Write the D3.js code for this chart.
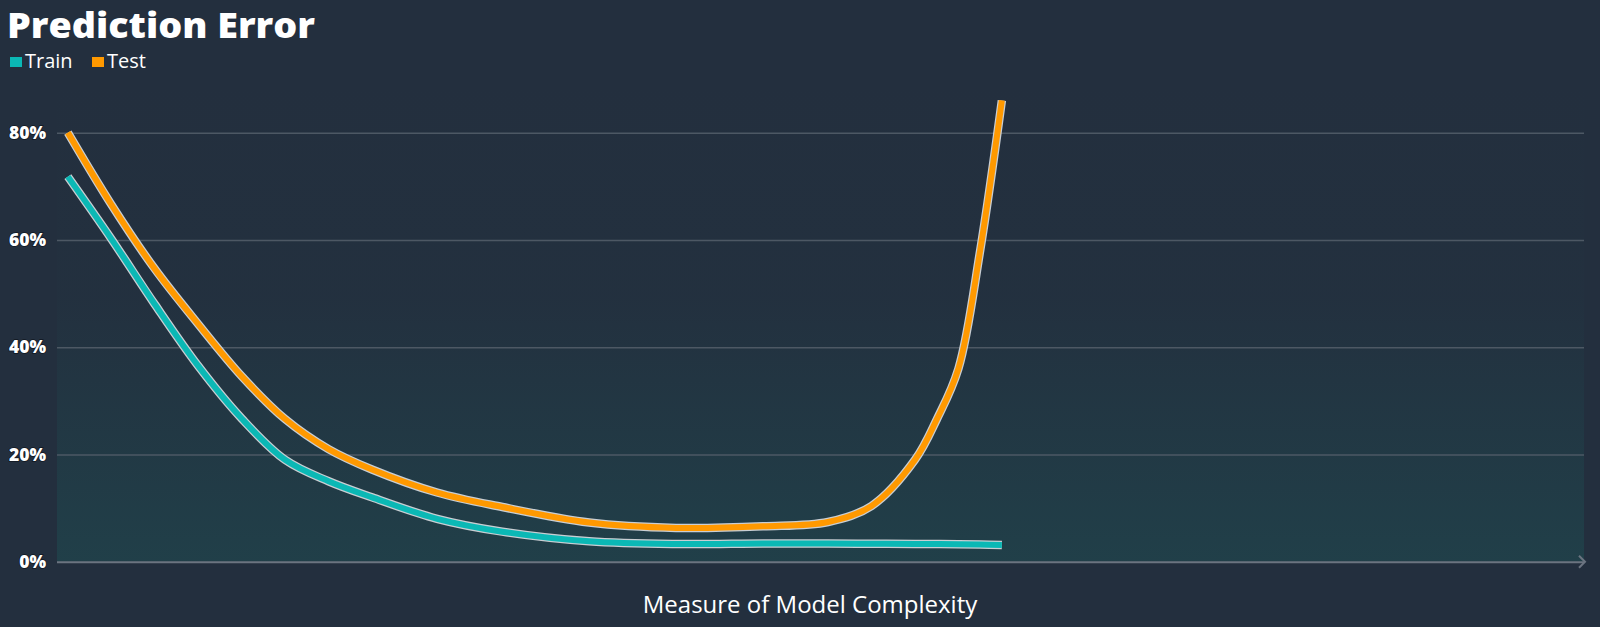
<!DOCTYPE html>
<html>
<head>
<meta charset="utf-8">
<script src="https://cdn.jsdelivr.net/npm/d3@7"></script>
<style>
  html, body { margin: 0; padding: 0; background: #232f3e; }
  svg { display: block; }
</style>
</head>
<body>
<svg id="chart" width="1600" height="627"></svg>
<script>
// ---- data ----
const complexity = [1, 3, 5, 7, 9, 11, 13, 15, 18, 21, 25, 29, 33, 36, 38, 40, 41, 42, 43, 44];
const trainError = [71.8, 60.2, 48.0, 36.5, 26.7, 19.0, 15.0, 12.0, 8.0, 5.6, 3.8, 3.3, 3.4, 3.4, 3.35, 3.3, 3.3, 3.25, 3.2, 3.1];
const testError  = [80, 66.6, 54.6, 44.3, 34.6, 26.6, 21.0, 17.2, 12.9, 10.2, 7.3, 6.3, 6.6, 7.4, 10.4, 19.0, 26.5, 36, 58, 86];
const yTicks = [0, 20, 40, 60, 80];
const seriesNames = ["Train", "Test"];
const seriesColors = ["#0bb8b5", "#ff9900"];
const titleText = "Prediction Error";
const xAxisTitle = "Measure of Model Complexity";

// ---- layout ----
const W = 1600, H = 627;
const plot = { left: 57, right: 1584, top: 79, bottom: 561.7 };

const svg = d3.select("#chart");
svg.append("rect").attr("width", W).attr("height", H).attr("fill", "#232f3e");

const x = d3.scaleLinear().domain([0.5, 70.8]).range([plot.left, plot.right]);
const y = d3.scaleLinear().domain([0, 90]).range([plot.bottom, plot.top]);

// gradient background of plot
const defs = svg.append("defs");
const grad = defs.append("linearGradient").attr("id", "bg").attr("x1", 0).attr("y1", 0).attr("x2", 0).attr("y2", 1);
grad.append("stop").attr("offset", "0%").attr("stop-color", "#1f4a50").attr("stop-opacity", 0);
grad.append("stop").attr("offset", "45%").attr("stop-color", "#1f4a50").attr("stop-opacity", 0.05);
grad.append("stop").attr("offset", "100%").attr("stop-color", "#1f4a50").attr("stop-opacity", 0.6);
svg.append("rect")
  .attr("x", plot.left).attr("y", y(90))
  .attr("width", plot.right - plot.left).attr("height", plot.bottom - y(90))
  .attr("fill", "url(#bg)");

// gridlines + y labels
const yAxis = d3.axisLeft(y).tickValues(yTicks).tickSize(-(plot.right - plot.left)).tickFormat(d => d + "%").tickPadding(12);
const gy = svg.append("g").attr("transform", `translate(${plot.left},0)`).call(yAxis);
gy.select(".domain").remove();
gy.selectAll(".tick line").attr("stroke", "#4d5864").attr("stroke-width", 1.5)
  .filter(d => d === 0).attr("stroke", "#6b7480").attr("stroke-width", 2);
gy.selectAll(".tick text")
  .attr("x", -11)
  .attr("fill", "#ffffff")
  .attr("font-family", "'Open Sans', sans-serif")
  .attr("font-weight", 800)
  .attr("font-size", 17.5)
  .style("paint-order", "stroke")
  .attr("stroke", "#10161f").attr("stroke-width", 1.4);

// x axis arrow
svg.append("path")
  .attr("d", `M${plot.right - 5},${plot.bottom - 6} L${plot.right + 1},${plot.bottom} L${plot.right - 5},${plot.bottom + 6}`)
  .attr("fill", "none").attr("stroke", "#6b7480").attr("stroke-width", 2);

// lines
const line = d3.line()
  .x((d, i) => x(complexity[i]))
  .y(d => y(d))
  .curve(d3.curveCatmullRom.alpha(0.5));

[trainError, testError].forEach((vals, k) => {
  svg.append("path").datum(vals)
    .attr("d", line).attr("fill", "none")
    .attr("stroke", "#c9ced3").attr("stroke-width", 8.5).attr("stroke-linecap", "butt").attr("stroke-linejoin", "round");
  svg.append("path").datum(vals)
    .attr("d", line).attr("fill", "none")
    .attr("stroke", seriesColors[k]).attr("stroke-width", 6).attr("stroke-linecap", "butt").attr("stroke-linejoin", "round");
});

// title
svg.append("text")
  .attr("x", 7).attr("y", 38)
  .attr("fill", "#ffffff")
  .attr("font-family", "'Open Sans', sans-serif")
  .attr("font-weight", 800)
  .attr("font-size", 36)
  .attr("textLength", 308).attr("lengthAdjust", "spacingAndGlyphs")
  .text(titleText);

// legend
const legendX = [10, 92];
seriesNames.forEach((name, i) => {
  const g = svg.append("g").attr("transform", `translate(${legendX[i]},0)`);
  g.append("rect").attr("x", 0).attr("y", 57).attr("width", 12).attr("height", 10).attr("fill", seriesColors[i]);
  g.append("text").attr("x", 15).attr("y", 68)
    .attr("fill", "#ffffff")
    .attr("font-family", "'Open Sans', sans-serif")
    .attr("font-size", 20)
    .text(name);
});

// x axis title
svg.append("text")
  .attr("x", 810).attr("y", 613)
  .attr("text-anchor", "middle")
  .attr("fill", "#ffffff")
  .attr("font-family", "'Open Sans', sans-serif")
  .attr("font-size", 24)
  .text(xAxisTitle);
</script>
</body>
</html>
